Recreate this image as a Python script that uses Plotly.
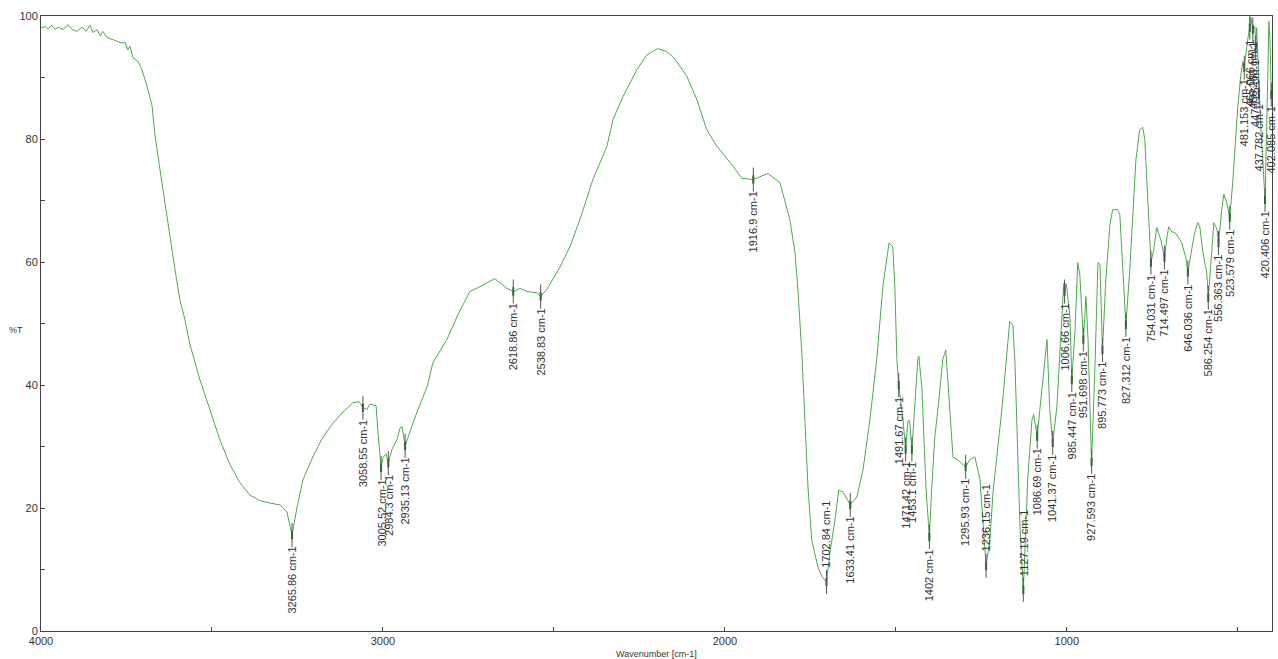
import numpy as np
import plotly.graph_objects as go

wavenumber = [
    4000, 3998, 3988, 3980, 3968, 3959, 3950, 3936, 3921, 3909, 3895, 3880, 3868, 3857, 3848, 3836,
    3827, 3819, 3807, 3792, 3778, 3763, 3754, 3746, 3740, 3731, 3716, 3705, 3696, 3687, 3675, 3667,
    3652, 3637, 3623, 3608, 3594, 3579, 3564, 3535, 3506, 3477, 3447, 3418, 3389, 3360, 3330, 3301,
    3281, 3265.86, 3251, 3234, 3205, 3175, 3146, 3117, 3088, 3070, 3058.55, 3047, 3038, 3020, 3015,
    3005.52, 3000, 2991, 2984.3, 2974, 2959, 2950, 2944, 2935.13, 2921, 2901, 2871, 2854, 2813, 2781,
    2746, 2716, 2673, 2658, 2637, 2618.86, 2599, 2579, 2550, 2538.83, 2521, 2482, 2453, 2424, 2386,
    2345, 2327, 2298, 2257, 2228, 2196, 2170, 2152, 2111, 2082, 2053, 2023, 1985, 1950, 1916.9, 1874,
    1839, 1810, 1795, 1787, 1775, 1766, 1757, 1746, 1728, 1716, 1702.84, 1693, 1678, 1667, 1655, 1646,
    1633.41, 1614, 1596, 1576, 1556, 1538, 1520, 1509, 1503, 1497, 1491.67, 1479, 1471.42, 1465, 1460,
    1453.1, 1444, 1436, 1433, 1424, 1412, 1402, 1395, 1386, 1374, 1363, 1354, 1342, 1333, 1319, 1307,
    1295.93, 1284, 1269, 1254, 1246, 1236.15, 1225, 1216, 1190, 1175, 1167, 1158, 1152, 1137, 1127.19,
    1114, 1102, 1097, 1086.69, 1079, 1064, 1058, 1050, 1041.37, 1029, 1012, 1009, 1006.66, 1003, 1000,
    991, 985.447, 976, 968, 962, 951.698, 944, 938, 927.593, 918, 909, 903, 895.773, 886, 874, 866,
    851, 845, 827.312, 816, 798, 787, 778, 772, 763, 754.031, 746, 737, 725, 714.497, 707, 702, 693,
    684, 675, 664, 652, 646.036, 635, 626, 617, 611, 602, 591, 586.254, 579, 573, 570, 561, 556.363,
    547, 541, 532, 523.579, 515, 506, 500, 491, 485, 481.153, 476, 471, 465, 462, 456, 450, 448, 445,
    441, 437.782, 433, 427, 420.406, 415, 409, 406, 402.085, 400,
]

transmittance = [
    98.1, 98.1, 98.3, 97.9, 98.5, 97.8, 98.2, 97.8, 98.6, 97.8, 97.5, 98.2, 97.5, 98.5, 97.3, 97.8,
    96.8, 97.5, 96.5, 96.2, 95.9, 95.6, 95.7, 94.5, 95.1, 93.2, 92.6, 91.3, 89.7, 88.0, 85.3, 80.7,
    75.0, 69.3, 63.6, 58.7, 53.9, 50.6, 46.5, 40.8, 36.0, 31.1, 27.0, 24.1, 22.1, 21.2, 20.8, 20.5,
    19.4, 15.6, 20.2, 24.6, 28.3, 31.6, 33.8, 35.6, 37.1, 37.3, 36.3, 36.0, 36.9, 36.6, 32.7,
    26.5, 28.2, 28.8, 27.3, 29.5, 31.1, 33.0, 33.2, 30.1, 32.4, 35.5, 39.7, 43.6, 47.4, 51.4,
    55.2, 56.0, 57.3, 56.6, 55.7, 55.2, 55.7, 55.2, 55.0, 54.4, 55.5, 59.2, 62.5, 66.9, 73.4,
    78.8, 83.2, 86.9, 91.3, 93.7, 94.7, 94.2, 93.4, 90.2, 86.4, 81.5, 78.8, 76.2, 73.6, 73.4, 74.4,
    72.9, 66.9, 61.5, 56.0, 45.2, 34.3, 23.4, 14.8, 10.4, 8.8, 8.0, 12.7, 18.1, 22.9, 22.6, 21.8,
    20.5, 21.8, 26.2, 34.3, 44.1, 56.0, 63.1, 62.5, 56.0, 44.1, 40.0, 34.3, 29.5, 34.0, 34.3,
    29.5, 37.6, 44.1, 44.7, 39.7, 23.4, 15.3, 23.4, 31.6, 37.6, 44.1, 45.7, 36.0, 28.3, 27.8, 27.3,
    26.7, 27.8, 28.3, 24.6, 18.1, 10.6, 14.8, 22.5, 36.0, 45.7, 50.3, 49.8, 44.1, 16.9, 6.7,
    25.1, 34.3, 35.2, 31.6, 36.0, 44.1, 47.4, 36.0, 30.6, 36.5, 52.2, 56.5, 55.2, 56.5, 55.8,
    51.1, 40.8, 49.0, 59.9, 57.9, 47.4, 54.4, 47.4, 27.5, 42.5, 59.9, 59.6, 45.7, 57.1, 66.1, 68.5,
    68.5, 67.7, 49.8, 58.7, 76.6, 81.5, 81.9, 79.9, 70.1, 59.9, 62.0, 65.6, 63.6, 60.7, 64.1, 65.7, 64.9,
    64.8, 64.1, 63.1, 60.7, 58.3, 62.0, 64.8, 66.4, 65.7, 61.5, 58.3, 54.2, 59.2, 64.8, 66.4, 65.3, 63.1,
    68.5, 71.0, 69.6, 67.2, 72.9, 79.9, 85.3, 90.5, 92.6, 91.6, 94.5, 96.2, 98.1, 99.8, 97.8, 98.3, 94.5, 98.1,
    93.0, 87.5, 82.0, 76.6, 70.1, 83.2, 99.1, 96.2, 87.2, 88.8,
]

peak_wavenumbers = [
    3265.86, 3058.55, 3005.52, 2984.3, 2935.13, 2618.86, 2538.83, 1916.9, 1702.84, 1633.41,
    1491.67, 1471.42, 1453.1, 1402, 1295.93, 1236.15, 1127.19, 1086.69, 1041.37, 1006.66,
    985.447, 951.698, 927.593, 895.773, 827.312, 754.031, 714.497, 646.036, 586.254, 556.363,
    523.579, 481.153, 465.0, 456.0, 447.725, 437.782, 420.406, 402.085,
]
peak_labels = [
    "3265.86 cm-1", "3058.55 cm-1", "3005.52 cm-1", "2984.3 cm-1", "2935.13 cm-1", "2618.86 cm-1",
    "2538.83 cm-1", "1916.9 cm-1", "1702.84 cm-1", "1633.41 cm-1", "1491.67 cm-1", "1471.42 cm-1",
    "1453.1 cm-1", "1402 cm-1", "1295.93 cm-1", "1236.15 cm-1", "1127.19 cm-1", "1086.69 cm-1",
    "1041.37 cm-1", "1006.66 cm-1", "985.447 cm-1", "951.698 cm-1", "927.593 cm-1", "895.773 cm-1",
    "827.312 cm-1", "754.031 cm-1", "714.497 cm-1", "646.036 cm-1", "586.254 cm-1", "556.363 cm-1",
    "523.579 cm-1", "481.153 cm-1", "465.066 cm-1", "456.283 cm-1", "447.725 cm-1", "437.782 cm-1",
    "420.406 cm-1", "402.085 cm-1",
]

x_tick_values = [4000, 3500, 3000, 2500, 2000, 1500, 1000, 500, 400]
x_tick_labels = ["4000", "", "3000", "", "2000", "", "1000", "", "400"]
y_tick_values = [0, 10, 20, 30, 40, 50, 60, 70, 80, 90, 100]
y_tick_labels = ["0", "", "20", "", "40", "", "60", "", "80", "", "100"]

wn_arr = np.array(wavenumber)
t_arr = np.array(transmittance)
order = np.argsort(wn_arr)
peak_t = np.interp(peak_wavenumbers, wn_arr[order], t_arr[order])

fig = go.Figure()
fig.add_trace(go.Scatter(
    x=wavenumber, y=transmittance, mode="lines",
    line=dict(color="#4aaa4a", width=1), hoverinfo="skip", showlegend=False,
))
fig.add_trace(go.Scatter(
    x=peak_wavenumbers, y=peak_t, mode="markers",
    marker=dict(symbol="line-ns-open", size=6, color="#1f6b1f",
                line=dict(color="#1f6b1f", width=2)),
    hoverinfo="skip", showlegend=False,
))

shapes = []
annotations = []
for wn, t, lab in zip(peak_wavenumbers, peak_t, peak_labels):
    below = t >= 12
    shapes.append(dict(
        type="line", xref="x", yref="y", x0=wn, x1=wn,
        ysizemode="pixel", yanchor=t, y0=-12, y1=12,
        line=dict(color="#555555", width=1),
    ))
    annotations.append(dict(
        x=wn, y=t, xref="x", yref="y", text=lab, textangle=-90, showarrow=False,
        xanchor="center", yanchor="top" if below else "bottom",
        yshift=-11 if below else 13, borderpad=0,
        font=dict(family="Liberation Sans, Arial, sans-serif", size=11, color="#333333"),
    ))

annotations.append(dict(
    x=0.5, y=-0.037, xref="paper", yref="paper", text="Wavenumber [cm-1]",
    showarrow=False, xanchor="center", yanchor="middle",
    font=dict(family="Liberation Sans, Arial, sans-serif", size=9, color="#333333"),
))
annotations.append(dict(
    x=-0.02, y=0.49, xref="paper", yref="paper", text="%T",
    showarrow=False, xanchor="center", yanchor="middle",
    font=dict(family="Liberation Sans, Arial, sans-serif", size=9, color="#333333"),
))

fig.update_layout(
    width=1278, height=659,
    margin=dict(l=41, r=6, t=16, b=28),
    paper_bgcolor="white", plot_bgcolor="white",
    shapes=shapes, annotations=annotations,
    font=dict(family="Liberation Sans, Arial, sans-serif", size=11, color="#333333"),
    xaxis=dict(
        range=[4000, 400], showgrid=False, zeroline=False, showline=True, mirror=True,
        linecolor="#444444", linewidth=1, ticks="inside", ticklen=4, tickcolor="#444444",
        tickmode="array", tickvals=x_tick_values, ticktext=x_tick_labels,
        tickfont=dict(size=11, color="#333333"),
    ),
    yaxis=dict(
        range=[0, 100], showgrid=False, zeroline=False, showline=True, mirror=True,
        linecolor="#444444", linewidth=1, ticks="inside", ticklen=4, tickcolor="#444444",
        tickmode="array", tickvals=y_tick_values, ticktext=y_tick_labels,
        tickfont=dict(size=11, color="#333333"),
    ),
)

fig.write_html("out.html")
